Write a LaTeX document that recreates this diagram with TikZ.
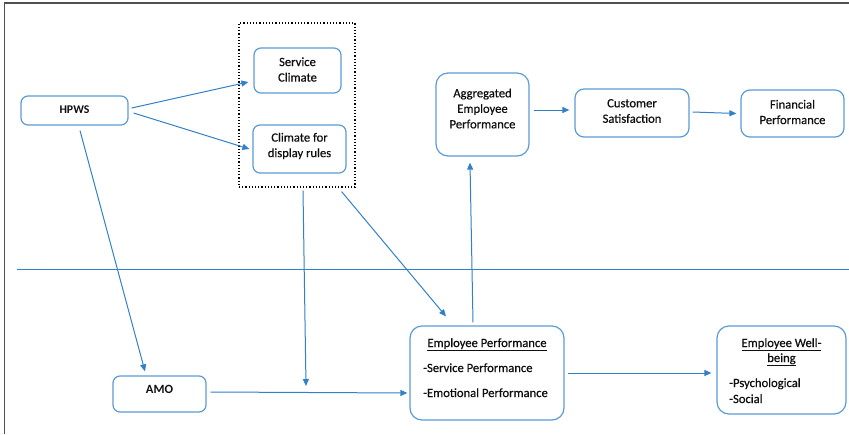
\documentclass[tikz,border=0pt]{standalone}
\usepackage{fontspec}
\setmainfont{Carlito}
\newfontfamily\semib[FakeBold=0.6]{Carlito}
\usetikzlibrary{arrows.meta,calc}
\definecolor{boxc}{RGB}{91,155,213}
\definecolor{arrc}{RGB}{50,128,200}
\definecolor{framec}{RGB}{80,80,80}
\definecolor{txt}{RGB}{15,15,15}
\tikzset{
  box/.style={draw=boxc,line width=1.2pt,rounded corners=7pt,inner sep=0pt},
  bigbox/.style={box,rounded corners=12pt},
  lbl/.style={inner sep=0pt,align=center,text=txt,font=\semib\fontsize{12.6}{15.5}\selectfont},
  arr/.style={draw=arrc,line width=1pt,-{Triangle[length=7pt,width=6pt]}},
  ln/.style={draw=arrc,line width=1pt}
}
\begin{document}
\begin{tikzpicture}[x=1pt,y=-1pt]
\useasboundingbox (0,0) rectangle (849,434);
% frame
\draw[framec,line width=1.6pt] (4.5,434) -- (4.5,3) -- (849,3);
% boxes
\node[box,minimum width=107pt,minimum height=29pt] (hpws) at (74.5,110.5) {};
\node[draw=black,dotted,line width=1.2pt,minimum width=116pt,minimum height=164pt,inner sep=0pt] (grp) at (297,105) {};
\node[box,minimum width=87pt,minimum height=45pt] (sc) at (297.5,70.5) {};
\node[box,minimum width=93pt,minimum height=48pt] (cdr) at (299.5,149) {};
\node[bigbox,minimum width=93pt,minimum height=83pt] (agg) at (482.5,114.5) {};
\node[box,minimum width=114pt,minimum height=48pt,rounded corners=9pt] (cs) at (632,113) {};
\node[box,minimum width=103pt,minimum height=47pt,rounded corners=9pt] (fp) at (792.5,113.5) {};
\node[box,minimum width=93pt,minimum height=36pt] (amo) at (159.5,394) {};
\node[bigbox,minimum width=154pt,minimum height=94pt] (ep) at (487,373) {};
\node[bigbox,minimum width=129pt,minimum height=88pt] (wb) at (781.5,370) {};
% divider
\coordinate (divl) at (17,269);
\coordinate (divr) at (849,269);
\draw[ln] (divl) -- (divr);
% labels
\node[lbl,font=\fontsize{11.8}{14}\selectfont\bfseries] (thpws) at (74.5,109.5) {HPWS};
\node[lbl] (tsc) at (297.5,69.5) {Service\\Climate};
\node[lbl] (tcdr) at (299.5,146) {Climate for\\display rules};
\node[lbl] (tagg) at (482.5,108.5) {Aggregated\\Employee\\Performance};
\node[lbl] (tcs) at (632,111) {Customer\\Satisfaction};
\node[lbl] (tfp) at (792.5,112) {Financial\\Performance};
\node[lbl,font=\fontsize{12.6}{15}\selectfont\bfseries] (tamo) at (159.5,389.5) {AMO};
\node[lbl,anchor=base] (tep) at (487,347) {\underline{Employee Performance}};
\node[lbl,anchor=base west] (tep1) at (423,372) {-Service Performance};
\node[lbl,anchor=base west] (tep2) at (423,397) {-Emotional Performance};
\node[lbl,anchor=base] (twb) at (781.5,347) {\underline{Employee Well-}};
\node[lbl,anchor=base] (twb2) at (781.5,362) {\underline{being}};
\node[lbl,anchor=base west] (twb3) at (729,387) {-Psychological};
\node[lbl,anchor=base west] (twb4) at (729,403) {-Social};
% arrows
\draw[arr] ($(hpws.east)+(3,-2.5)$) -- ($(sc.west)+(-5,11.5)$);
\draw[arr] ($(hpws.east)+(5,2.5)$) -- ($(cdr.west)+(-3,0)$);
\draw[arr] ($(hpws.south)+(5.5,5)$) -- ($(amo.north)+(-14.5,-4)$);
\coordinate (mid) at (306,386);
\draw[arr] ($(grp.south)+(6,3)$) -- (mid);
\draw[arr] ($(grp.south east)+(-14,4)$) -- ($(ep.north)+(-41,-9)$);
\draw[arr] ($(amo.east)+(4,-2)$) -- ($(ep.west)+(-2,20)$);
\draw[arr] ($(ep.north)+(-14,-3)$) -- ($(agg.south)+(-12.5,6)$);
\draw[arr] ($(agg.east)+(4,-4.5)$) -- ($(cs.west)+(-5,-3)$);
\draw[arr] ($(cs.east)+(3,-1)$) -- ($(fp.west)+(-4,0)$);
\draw[arr] ($(ep.east)+(3,0)$) -- ($(wb.west)+(-5,3)$);
\end{tikzpicture}
\end{document}
